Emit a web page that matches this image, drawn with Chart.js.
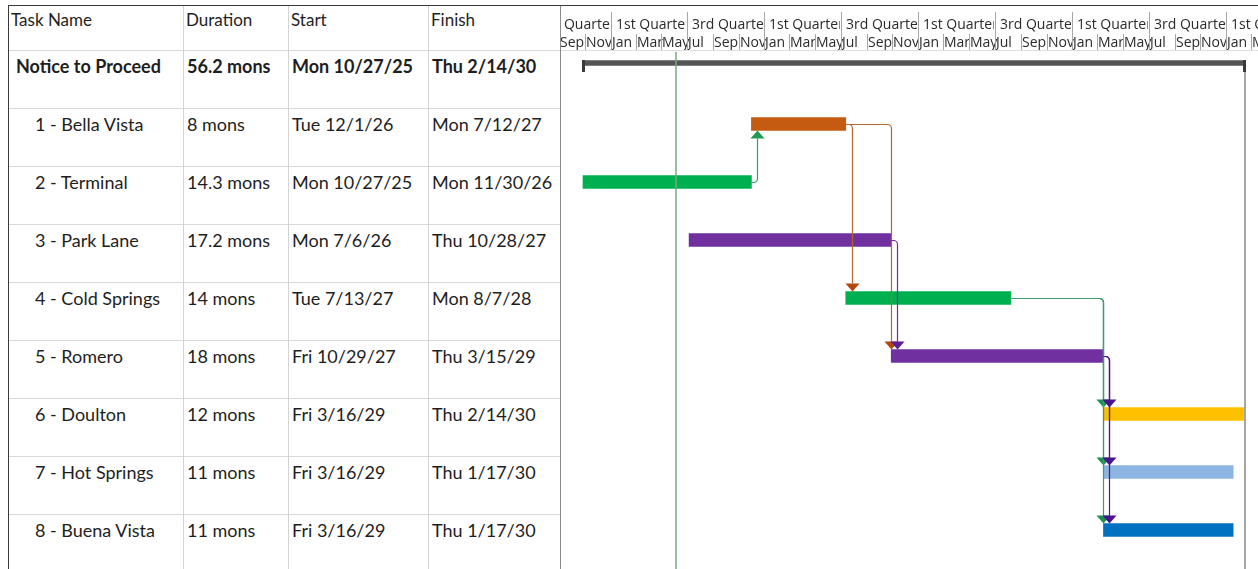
<!DOCTYPE html>
<html>
<head>
<meta charset="utf-8">
<title>Project schedule</title>
<script src="https://cdn.jsdelivr.net/npm/chart.js@4.4.1/dist/chart.umd.min.js"></script>
<style>
  html, body { margin: 0; padding: 0; background: #fff; }
  body { width: 1258px; height: 569px; position: relative; overflow: hidden; font-family: Lato, "Open Sans", sans-serif; color: #1e1e1e; }
  .ln { position: absolute; }
  .txt { position: absolute; white-space: nowrap; height: 22px; line-height: 22px; font-size: 18px; }
  .hd { font-size: 17px; }
  #wrap { position: absolute; left: 561px; top: 0; width: 697px; height: 569px; }
</style>
</head>
<body>
<div id="table"></div>
<div id="wrap"><canvas id="canvas"></canvas></div>
<div id="borders"></div>
<script>
// table columns
var columns = ['Task Name', 'Duration', 'Start', 'Finish'];

var taskNames = ['Notice to Proceed', '1 - Bella Vista', '2 - Terminal', '3 - Park Lane', '4 - Cold Springs',
    '5 - Romero', '6 - Doulton', '7 - Hot Springs', '8 - Buena Vista'];
var durations = ['56.2 mons', '8 mons', '14.3 mons', '17.2 mons', '14 mons', '18 mons', '12 mons', '11 mons', '11 mons'];
var startLabels = ['Mon 10/27/25', 'Tue 12/1/26', 'Mon 10/27/25', 'Mon 7/6/26', 'Tue 7/13/27',
    'Fri 10/29/27', 'Fri 3/16/29', 'Fri 3/16/29', 'Fri 3/16/29'];
var finishLabels = ['Thu 2/14/30', 'Mon 7/12/27', 'Mon 11/30/26', 'Thu 10/28/27', 'Mon 8/7/28',
    'Thu 3/15/29', 'Thu 2/14/30', 'Thu 1/17/30', 'Thu 1/17/30'];
var startDates = ['2025-10-27', '2026-12-01', '2025-10-27', '2026-07-06', '2027-07-13',
    '2027-10-29', '2029-03-16', '2029-03-16', '2029-03-16'];
var finishDates = ['2030-02-14', '2027-07-12', '2026-11-30', '2027-10-28', '2028-08-07',
    '2029-03-15', '2030-02-14', '2030-01-17', '2030-01-17'];

// predecessor -> successor (finish to start)
var links = [[2, 1], [1, 4], [1, 5], [3, 5], [4, 6], [4, 7], [4, 8], [5, 6], [5, 7], [5, 8]];

var todayDate = '2026-06-05';

// timescale: bottom tier every 2 months from Sep 2025, top tier every 6 months from Jul 2025
var monthLabels = ['Sep', 'Nov', 'Jan', 'Mar', 'May', 'Jul', 'Sep', 'Nov', 'Jan', 'Mar', 'May', 'Jul',
    'Sep', 'Nov', 'Jan', 'Mar', 'May', 'Jul', 'Sep', 'Nov', 'Jan', 'Mar', 'May', 'Jul',
    'Sep', 'Nov', 'Jan', 'Mar', 'May'];
var halfLabels = ['3rd Quarter', '1st Quarter', '3rd Quarter', '1st Quarter', '3rd Quarter',
    '1st Quarter', '3rd Quarter', '1st Quarter', '3rd Quarter', '1st Quarter', '3rd Quarter'];

var barColors = ['#555555', '#c55a11', '#00b050', '#7030a0', '#00b050', '#7030a0', '#ffc000', '#8db4e2', '#0070c0'];
var linkLineColors = ['#595959', '#b4652f', '#2fa062', '#6b2d9b', '#3f9a6c', '#4b1a8a', '#000', '#000', '#000'];
var linkHeadColors = ['#595959', '#b3470c', '#1f9a52', '#5a1e96', '#1f8f50', '#4a148c', '#000', '#000', '#000'];

var BASE = Date.UTC(2025, 9, 27);
function dayOf(s) {
    var p = s.split('-');
    return (Date.UTC(+p[0], +p[1] - 1, +p[2]) - BASE) / 86400000;
}
function monthDay(y, m, add) {
    var d = new Date(Date.UTC(y, m - 1 + add, 1));
    return (d.getTime() - BASE) / 86400000;
}
function startDay(i) { return dayOf(startDates[i]); }
function endDay(i) { return dayOf(finishDates[i]) + 1; }

// ---- table (left side) ----
var rowTop = 50, rowH = 58;
var colX = [8, 183, 288, 428, 560];
var table = document.getElementById('table');
function add(parent, cls, css, text) {
    var d = document.createElement('div');
    d.className = cls;
    d.style.cssText = css;
    if (text) d.textContent = text;
    parent.appendChild(d);
    return d;
}
for (var c = 0; c < columns.length; c++) {
    add(table, 'txt hd', 'left:' + (colX[c] + 3) + 'px;top:9px;', columns[c]);
}
for (var r = 0; r < taskNames.length; r++) {
    var yc = rowTop + 16 + r * rowH;
    var bold = r === 0 ? 'font-weight:bold;' : '';
    add(table, 'txt', bold + 'left:' + (r === 0 ? 16 : 35) + 'px;top:' + (yc - 11) + 'px;', taskNames[r]);
    add(table, 'txt', bold + 'left:' + (colX[1] + 4) + 'px;top:' + (yc - 11) + 'px;', durations[r]);
    add(table, 'txt', bold + 'left:' + (colX[2] + 4) + 'px;top:' + (yc - 11) + 'px;', startLabels[r]);
    add(table, 'txt', bold + 'left:' + (colX[3] + 4) + 'px;top:' + (yc - 11) + 'px;', finishLabels[r]);
    add(table, 'ln', 'left:8px;width:552px;height:1px;background:#d9d9d9;top:' + (rowTop + r * rowH) + 'px;');
}
for (var c = 1; c < 4; c++) {
    add(table, 'ln', 'top:5px;height:564px;width:1px;background:#d4d4d4;left:' + colX[c] + 'px;');
}
var borders = document.getElementById('borders');
add(borders, 'ln', 'left:560px;top:5px;height:564px;width:1px;background:#8a8a8a;');
add(borders, 'ln', 'left:8px;top:5px;height:564px;width:1px;background:#3a3a3a;');
add(borders, 'ln', 'left:8px;top:5px;width:1250px;height:1px;background:#3a3a3a;');
add(borders, 'ln', 'left:561px;top:50px;width:697px;height:1px;background:#dedede;');

// ---- gantt ----
var summaryData = taskNames.map(function(n, i) { return i === 0 ? [startDay(i), endDay(i)] : null; });
var taskData = taskNames.map(function(n, i) { return i === 0 ? null : [startDay(i), endDay(i)]; });

var ganttPlugin = {
    id: 'gantt',
    afterDatasetsUpdate: function(chart) {
        var bar = chart.getDatasetMeta(0).data[0];
        if (bar) bar.y = bar.y - 3;
    },
    afterDatasetsDraw: function(chart) {
        var ctx = chart.ctx, xs = chart.scales.x, ys = chart.scales.y;
        ctx.save();

        // summary end caps
        var yc = ys.getPixelForValue(0);
        var a = Math.round(xs.getPixelForValue(startDay(0)));
        var b = Math.round(xs.getPixelForValue(endDay(0)));
        ctx.fillStyle = '#3a3a3a';
        ctx.fillRect(a - 1, yc - 6, 3, 12);
        ctx.fillRect(b - 2, yc - 6, 3, 12);

        // project finish line
        ctx.strokeStyle = '#a6a6a6';
        ctx.lineWidth = 2;
        ctx.beginPath();
        ctx.moveTo(b, yc + 6);
        ctx.lineTo(b, chart.height);
        ctx.stroke();

        // links
        links.forEach(function(l) {
            var p = l[0], s = l[1];
            var x1 = xs.getPixelForValue(endDay(p)), y1 = ys.getPixelForValue(p);
            var x2 = xs.getPixelForValue(startDay(s)), y2 = ys.getPixelForValue(s);
            var xv = Math.round(Math.max(x1 + 6, x2)) + 0.5;
            var down = y2 > y1;
            var tip = down ? y2 - 6.5 : y2 + 6.5;
            var base = down ? tip - 8 : tip + 8;
            ctx.strokeStyle = linkLineColors[p];
            ctx.lineWidth = 1.2;
            ctx.beginPath();
            ctx.moveTo(x1, y1 + 0.5);
            ctx.arcTo(xv, y1 + 0.5, xv, base, 4);
            ctx.lineTo(xv, base);
            ctx.stroke();
            ctx.fillStyle = linkHeadColors[p];
            ctx.beginPath();
            ctx.moveTo(xv - 7, base);
            ctx.lineTo(xv + 7, base);
            ctx.lineTo(xv, tip);
            ctx.closePath();
            ctx.fill();
        });

        // current date line
        var xt = Math.round(xs.getPixelForValue(dayOf(todayDate)));
        ctx.strokeStyle = 'rgba(120,170,125,0.75)';
        ctx.lineWidth = 2;
        ctx.beginPath();
        ctx.moveTo(xt, 52);
        ctx.lineTo(xt, chart.height);
        ctx.stroke();
        ctx.restore();
    },
    afterDraw: function(chart) {
        var ctx = chart.ctx, xs = chart.scales.x;
        ctx.save();
        ctx.font = '14px "Open Sans"';
        ctx.textBaseline = 'middle';
        ctx.fillStyle = '#2a2a2a';
        ctx.strokeStyle = '#a6a6a6';
        ctx.lineWidth = 1;
        var i, p0, p1;
        for (i = 0; i < halfLabels.length; i++) {
            p0 = Math.round(xs.getPixelForValue(monthDay(2025, 7, i * 6)));
            p1 = Math.round(xs.getPixelForValue(monthDay(2025, 7, i * 6 + 6)));
            ctx.save();
            ctx.beginPath();
            ctx.rect(p0, 8, p1 - p0 - 1, 26);
            ctx.clip();
            ctx.fillText(halfLabels[i], p0 + 5, 25);
            ctx.restore();
            ctx.beginPath();
            ctx.moveTo(p0 + 0.5, 12);
            ctx.lineTo(p0 + 0.5, 34);
            ctx.stroke();
        }
        for (i = 0; i < monthLabels.length; i++) {
            p0 = Math.round(xs.getPixelForValue(monthDay(2025, 9, i * 2)));
            ctx.fillText(monthLabels[i], p0 + 1, 43);
            ctx.beginPath();
            ctx.moveTo(p0 + 0.5, 34);
            ctx.lineTo(p0 + 0.5, 50);
            ctx.stroke();
        }
        ctx.restore();
    }
};

var config = {
    type: 'bar',
    data: {
        labels: taskNames,
        datasets: [{
            label: 'Summary',
            data: summaryData,
            backgroundColor: barColors[0],
            barThickness: 5
        }, {
            label: 'Tasks',
            data: taskData,
            backgroundColor: barColors,
            barThickness: 13
        }]
    },
    options: {
        indexAxis: 'y',
        responsive: true,
        maintainAspectRatio: false,
        animation: false,
        grouped: false,
        layout: { padding: { top: 37, bottom: 10, left: 0, right: 0 } },
        plugins: {
            legend: { display: false },
            tooltip: { enabled: false }
        },
        scales: {
            x: { type: 'linear', display: false, min: -52.2, max: 1603 },
            y: { display: false }
        }
    },
    plugins: [ganttPlugin]
};

window.onload = function() {
    var ctx = document.getElementById('canvas').getContext('2d');
    window.myGantt = new Chart(ctx, config);
};
</script>
</body>
</html>
